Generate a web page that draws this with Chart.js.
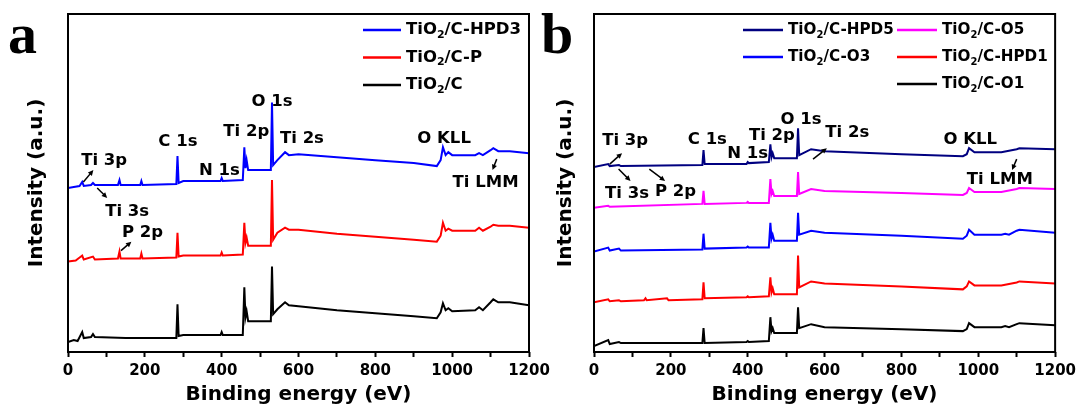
<!DOCTYPE html>
<html>
<head>
<meta charset="utf-8">
<script src="https://cdn.jsdelivr.net/npm/chart.js@4.4.0/dist/chart.umd.min.js"></script>
<style>
  html, body { margin: 0; padding: 0; background: #fff; }
  #wrap { position: relative; width: 1081px; height: 407px; overflow: hidden; }
  canvas { position: absolute; top: 0; }
  #chartA { left: 0; }
  #chartB { left: 540px; }
</style>
</head>
<body>
<div id="wrap">
  <canvas id="chartA" width="560" height="407"></canvas>
  <canvas id="chartB" width="541" height="407"></canvas>
</div>
<script>
// binding energy (eV), intensity (a.u.)
// panel a
const hpd3 = [[0,165],[15,166],[30,167],[37,171],[41,167],[60,168],[65,170],[70,168],[130,168],[134,173],[137,168],
  [188,168],[191,172],[194,168],[282,169],[285,197],[288,170],[300,172],[397,172],[400,175],[403,172],[455,173],
  [459,206],[462,185],[465,193],[469,183],[528,183],[531,251],[534,188],[545,193],[565,201],[575,198],[600,199],
  [700,196],[800,193],[900,190],[960,187],[970,193],[976,206],[983,198],[990,201],[1000,198],[1060,198],[1070,200],
  [1080,198],[1100,203],[1107,205],[1120,202],[1150,202],[1200,200]];
const oxP = [[0,91],[20,92],[37,97],[41,93],[65,96],[70,93],[130,94],[134,101],[137,94],[188,94],[191,99],[194,94],
  [282,95],[285,120],[288,96],[300,97],[397,97],[400,100],[403,97],[455,98],[459,130],[462,110],[465,115],[469,107],
  [528,107],[531,173],[534,113],[545,120],[565,125],[575,123],[600,123],[700,119],[800,116],[900,113],[960,111],
  [970,117],[976,130],[983,122],[990,124],[1000,122],[1060,122],[1070,125],[1080,122],[1100,126],[1107,128],
  [1120,127],[1150,127],[1200,125]];
const oxC = [[0,10],[15,12],[25,11],[37,20],[41,14],[60,15],[65,18],[70,15],[150,14],[282,14],[285,48],[288,16],
  [300,17],[397,17],[400,20],[403,17],[455,17],[459,65],[462,35],[465,41],[469,31],[528,31],[531,86],[534,38],
  [545,43],[565,50],[575,47],[600,46],[700,42],[800,39],[900,36],[960,34],[970,40],[976,49],[983,42],[990,44],
  [1000,41],[1060,42],[1070,45],[1080,42],[1100,50],[1107,53],[1120,50],[1150,50],[1200,47]];
// panel b
const hpd5 = [[0,186],[37,189],[41,187],[65,188],[70,187],[282,188],[285,203],[288,189],[397,189],[400,191],[403,190],
  [455,191],[459,209],[462,196],[465,200],[469,195],[528,195],[531,225],[534,198],[565,204],[600,202],[800,199],
  [960,197],[970,199],[976,205],[990,201],[1060,201],[1100,204],[1107,205],[1200,204]];
const o5 = [[0,145],[37,147],[41,146],[282,149],[285,162],[288,149],[397,150],[400,151],[403,150],[455,150],
  [459,174],[462,159],[465,162],[469,157],[528,157],[531,181],[534,159],[565,164],[600,162],[800,160],[960,158],
  [970,160],[976,165],[990,161],[1060,161],[1100,164],[1107,165],[1200,164]];
const o3 = [[0,101],[37,105],[41,102],[65,104],[70,102],[282,103],[285,119],[288,104],[397,105],[400,106],[403,105],
  [455,105],[459,130],[462,114],[465,118],[469,112],[528,112],[531,140],[534,118],[565,122],[600,120],[800,117],
  [960,114],[970,117],[976,123],[990,118],[1060,118],[1070,119],[1080,118],[1100,122],[1107,123],[1200,120]];
const hpd1 = [[0,50],[37,53],[41,51],[65,52],[70,51],[130,52],[134,54],[137,52],[190,54],[194,52],[282,53],[285,70],
  [288,54],[397,55],[400,56],[403,55],[455,56],[459,75],[462,60],[465,64],[469,58],[528,58],[531,97],[534,65],
  [565,71],[600,69],[800,66],[960,63],[970,66],[976,71],[990,67],[1060,67],[1100,70],[1107,71],[1200,69]];
const o1 = [[0,6],[37,12],[41,8],[65,10],[70,9],[282,9],[285,24],[288,9],[397,10],[400,11],[403,10],[455,11],
  [459,35],[462,21],[465,24],[469,19],[528,19],[531,45],[534,24],[565,28],[600,25],[800,23],[960,21],[970,23],
  [976,29],[990,25],[1060,25],[1070,26],[1080,25],[1100,28],[1107,29],[1200,27]];

const xTicks = [0, 200, 400, 600, 800, 1000, 1200];

// peak labels: [text, eV, intensity]
const peaksA = [["Ti 3p",94,192],["Ti 3s",154,141],["P 2p",194,120],["C 1s",286,212],["N 1s",394,182],
  ["Ti 2p",464,222],["O 1s",531,252],["Ti 2s",609,215],["O KLL",979,215],["Ti LMM",1087,170]];
const arrowsA = [[40,171,66,183],[76,165,102,155],[138,102,165,111],[1116,194,1105,183]];
const peaksB = [["Ti 3p",81,213],["Ti 3s",86,159],["P 2p",212,161],["C 1s",295,214],["N 1s",400,199],
  ["Ti 2p",463,218],["O 1s",539,234],["Ti 2s",659,221],["O KLL",979,214],["Ti LMM",1056,173]];
const arrowsB = [[41,189,73,200],[64,184,95,172],[144,184,185,172],[570,194,606,205],[1100,194,1088,183]];

const FONT = '"DejaVu Sans", "Liberation Sans", Arial, sans-serif';
Chart.defaults.color = '#000';

function drawArrow(ctx, x0, y0, x1, y1) {
  const ang = Math.atan2(y1 - y0, x1 - x0);
  const hl = 6;
  ctx.beginPath();
  ctx.moveTo(x0, y0);
  ctx.lineTo(x1 - Math.cos(ang) * 3, y1 - Math.sin(ang) * 3);
  ctx.stroke();
  ctx.beginPath();
  ctx.moveTo(x1, y1);
  ctx.lineTo(x1 - hl * Math.cos(ang - 0.45), y1 - hl * Math.sin(ang - 0.45));
  ctx.lineTo(x1 - hl * Math.cos(ang + 0.45), y1 - hl * Math.sin(ang + 0.45));
  ctx.closePath();
  ctx.fill();
}

function drawLegendText(ctx, x, y, rest, size) {
  ctx.font = 'bold ' + size + 'px ' + FONT;
  ctx.textAlign = 'left';
  ctx.textBaseline = 'middle';
  ctx.fillText('TiO', x, y);
  let w = ctx.measureText('TiO').width;
  ctx.font = 'bold ' + Math.round(size * 0.68) + 'px ' + FONT;
  ctx.fillText('2', x + w, y + 5);
  w += ctx.measureText('2').width;
  ctx.font = 'bold ' + size + 'px ' + FONT;
  ctx.fillText(rest, x + w, y);
}

const decor = {
  id: 'decor',
  afterDatasetsDraw(chart, args, opts) {
    const {ctx, chartArea: a, scales: {x, y}} = chart;
    ctx.save();
    ctx.strokeStyle = '#000';
    ctx.fillStyle = '#000';
    ctx.lineWidth = 2;
    ctx.strokeRect(a.left, a.top, a.right - a.left, a.bottom - a.top);

    ctx.font = 'bold 16.5px ' + FONT;
    ctx.textAlign = 'center';
    ctx.textBaseline = 'middle';
    opts.peaks.forEach(([t, ev, h]) => ctx.fillText(t, x.getPixelForValue(ev), y.getPixelForValue(h)));

    ctx.lineWidth = 1.5;
    opts.arrows.forEach(([e0, h0, e1, h1]) =>
      drawArrow(ctx, x.getPixelForValue(e0), y.getPixelForValue(h0), x.getPixelForValue(e1), y.getPixelForValue(h1)));

    ctx.lineWidth = 2.5;
    opts.legend.forEach(item => {
      const ds = chart.data.datasets[item.index];
      ctx.strokeStyle = ds.borderColor;
      ctx.beginPath();
      ctx.moveTo(item.x, item.y);
      ctx.lineTo(item.x + opts.legendLine, item.y);
      ctx.stroke();
      ctx.fillStyle = '#000';
      drawLegendText(ctx, item.x + opts.legendLine + 5, item.y, ds.label.replace('TiO2', ''), opts.legendSize);
    });

    ctx.font = 'bold 58px "Liberation Serif", "Times New Roman", serif';
    ctx.textAlign = 'left';
    ctx.textBaseline = 'alphabetic';
    ctx.fillText(opts.letter, opts.letterX, 53);
    ctx.restore();
  }
};

function makeChart(id, datasets, padLeft, yWidth, padRight, decorOpts) {
  return new Chart(document.getElementById(id), {
    type: 'line',
    data: {
      datasets: datasets.map(d => ({
        label: d.label,
        data: d.data.map(p => ({x: p[0], y: p[1]})),
        borderColor: d.color,
        borderWidth: 2,
        pointRadius: 0,
        tension: 0,
        fill: false
      }))
    },
    options: {
      responsive: false,
      animation: false,
      layout: { padding: { top: 14, left: padLeft, right: padRight, bottom: 0 } },
      plugins: { legend: { display: false }, tooltip: { enabled: false }, decor: decorOpts },
      scales: {
        x: {
          type: 'linear',
          min: 0,
          max: 1200,
          afterFit: s => { s.height = 55; },
          afterBuildTicks: s => { s.ticks = []; for (let v = 0; v <= 1200; v += 100) s.ticks.push({value: v}); },
          ticks: {
            callback: v => xTicks.includes(v) ? v : '',
            autoSkip: false,
            maxRotation: 0,
            padding: 5,
            color: '#000',
            font: { family: FONT, size: 15, weight: 'bold' }
          },
          grid: { drawOnChartArea: false, drawTicks: true, tickLength: 5, tickWidth: 2, tickColor: '#000' },
          border: { display: false },
          title: {
            display: true,
            text: 'Binding energy (eV)',
            color: '#000',
            padding: 0,
            font: { family: FONT, size: 20, weight: 'bold', lineHeight: 1.25 }
          }
        },
        y: {
          min: 0,
          max: 340,
          afterFit: s => { s.width = yWidth; },
          ticks: { display: false },
          grid: { display: false },
          border: { display: false },
          title: {
            display: true,
            text: 'Intensity (a.u.)',
            color: '#000',
            padding: 0,
            font: { family: FONT, size: 20, weight: 'bold' }
          }
        }
      }
    },
    plugins: [decor]
  });
}

makeChart('chartA', [
  { label: 'TiO2/C-HPD3', data: hpd3, color: '#0000ff' },
  { label: 'TiO2/C-P', data: oxP, color: '#ff0000' },
  { label: 'TiO2/C', data: oxC, color: '#000000' }
], 25, 43, 31, {
  peaks: peaksA, arrows: arrowsA, letter: 'a', letterX: 8, legendLine: 38, legendSize: 16.5,
  legend: [ { index: 0, x: 363, y: 30 }, { index: 1, x: 363, y: 57.5 }, { index: 2, x: 363, y: 85 } ]
});

makeChart('chartB', [
  { label: 'TiO2/C-HPD5', data: hpd5, color: '#000080' },
  { label: 'TiO2/C-O5', data: o5, color: '#ff00ff' },
  { label: 'TiO2/C-O3', data: o3, color: '#0000ff' },
  { label: 'TiO2/C-HPD1', data: hpd1, color: '#ff0000' },
  { label: 'TiO2/C-O1', data: o1, color: '#000000' }
], 14, 40, 25, {
  peaks: peaksB, arrows: arrowsB, letter: 'b', letterX: 1, legendLine: 40, legendSize: 15.2,
  legend: [ { index: 0, x: 203, y: 30 }, { index: 1, x: 357, y: 30 }, { index: 2, x: 203, y: 57 },
            { index: 3, x: 357, y: 57 }, { index: 4, x: 357, y: 84 } ]
});
</script>
</body>
</html>
